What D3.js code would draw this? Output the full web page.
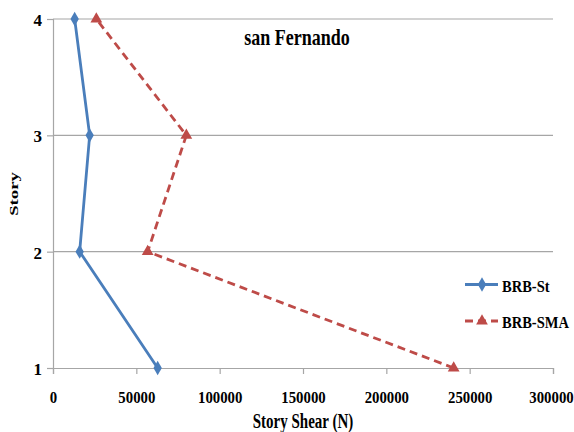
<!DOCTYPE html>
<html><head><meta charset="utf-8">
<script src="https://cdn.jsdelivr.net/npm/d3@7"></script>
<style>body{margin:0;background:#fff}svg{display:block}</style>
</head><body>
<script>
const stories = [1, 2, 3, 4];
const brbSt = [62800, 16000, 22000, 13000];
const brbSma = [240400, 56800, 80000, 26000];
const xTicks = [0, 50000, 100000, 150000, 200000, 250000, 300000];
const yTicks = [1, 2, 3, 4];
const seriesNames = ["BRB-St", "BRB-SMA"];

const W = 574, H = 432;
const FONT = "Liberation Serif";
const m = {l: 53, r: 21, t: 19, b: 64};
const svg = d3.select("body").append("svg").attr("width", W).attr("height", H);
const x = d3.scaleLinear().domain([0, 300000]).range([m.l, W - m.r]);
const y = d3.scaleLinear().domain([1, 4]).range([H - m.b, m.t]);
const grey = "#a6a6a6";

// gridlines
svg.append("g").selectAll("line").data(yTicks.slice(1)).join("line")
  .attr("x1", x(0)).attr("x2", x(300000)).attr("y1", d => y(d)).attr("y2", d => y(d))
  .attr("stroke", grey).attr("stroke-width", 1.2);

const xa = svg.append("g").attr("transform", `translate(0,${y(1)})`)
  .call(d3.axisBottom(x).tickValues(xTicks).tickSize(6).tickFormat(d3.format("d")));
const ya = svg.append("g").attr("transform", `translate(${x(0)},0)`)
  .call(d3.axisLeft(y).tickValues(yTicks).tickSize(6).tickFormat(d3.format("d")));
[xa, ya].forEach(a => {
  a.attr("font-family", FONT).attr("font-weight", "bold");
  a.select(".domain").attr("stroke", grey).attr("stroke-width", 1.2);
  a.selectAll(".tick line").attr("stroke", grey).attr("stroke-width", 1.2);
  a.selectAll("text").attr("font-family", FONT).attr("font-weight", "bold").attr("font-size", 17).attr("fill", "#000");
});
// x tick labels: baseline ~35px below axis, slightly condensed
xa.selectAll(".tick text").attr("y", 0).attr("dy", null).attr("x", 0)
  .attr("transform", (d, i, n) => `translate(${i === n.length - 1 ? -2 : 0},35) scale(0.87,1)`);
ya.selectAll(".tick text").attr("x", -11).attr("dy", "0.38em");

const line = d3.line().x(d => x(d[0])).y(d => y(d[1]));
const stData = stories.map((s, i) => [brbSt[i], s]);
const smaData = stories.map((s, i) => [brbSma[i], s]);
const blue = "#4a7ebb", red = "#be4b48";

svg.append("path").datum(smaData).attr("d", line).attr("fill", "none")
  .attr("stroke", red).attr("stroke-width", 2.8).attr("stroke-dasharray", "8,5");
svg.append("path").datum(stData).attr("d", line).attr("fill", "none")
  .attr("stroke", blue).attr("stroke-width", 2.8);

const diamond = d3.symbol().type(d3.symbolDiamond).size(60);
const tri = d3.symbol().type(d3.symbolTriangle).size(60);
svg.append("g").selectAll("path").data(stData).join("path")
  .attr("d", diamond).attr("transform", d => `translate(${x(d[0])},${y(d[1])})`).attr("fill", blue);
svg.append("g").selectAll("path").data(smaData).join("path")
  .attr("d", tri).attr("transform", d => `translate(${x(d[0])},${y(d[1])})`).attr("fill", red);

function label(px, py, fs, sx, str, anchor, rot) {
  const t = `translate(${px},${py})` + (rot ? ` rotate(${rot})` : "") + ` scale(${sx},1)`;
  return svg.append("text").attr("x", 0).attr("y", 0).attr("transform", t)
    .attr("font-family", FONT).attr("font-weight", "bold").attr("font-size", fs)
    .attr("fill", "#000").attr("text-anchor", anchor || "start").text(str);
}

// titles
label(297, 45, 24, 0.75, "san Fernando", "middle");
label(303, 428, 20, 0.75, "Story Shear (N)", "middle");
label(18, 194, 12.5, 1.5, "Story", "middle", -90);

// legend
const ly = [284.5, 321];
svg.append("line").attr("x1", 465).attr("x2", 498).attr("y1", ly[0]).attr("y2", ly[0]).attr("stroke", blue).attr("stroke-width", 2.8);
svg.append("path").attr("d", diamond).attr("transform", `translate(482,${ly[0]})`).attr("fill", blue);
svg.append("line").attr("x1", 465).attr("x2", 498).attr("y1", ly[1]).attr("y2", ly[1]).attr("stroke", red).attr("stroke-width", 2.8).attr("stroke-dasharray", "8,5");
svg.append("path").attr("d", tri).attr("transform", `translate(482,${ly[1]})`).attr("fill", red);
seriesNames.forEach((n, i) => label(502, ly[i] + 7, 17.5, 0.83, n, "start"));
</script>
</body></html>
